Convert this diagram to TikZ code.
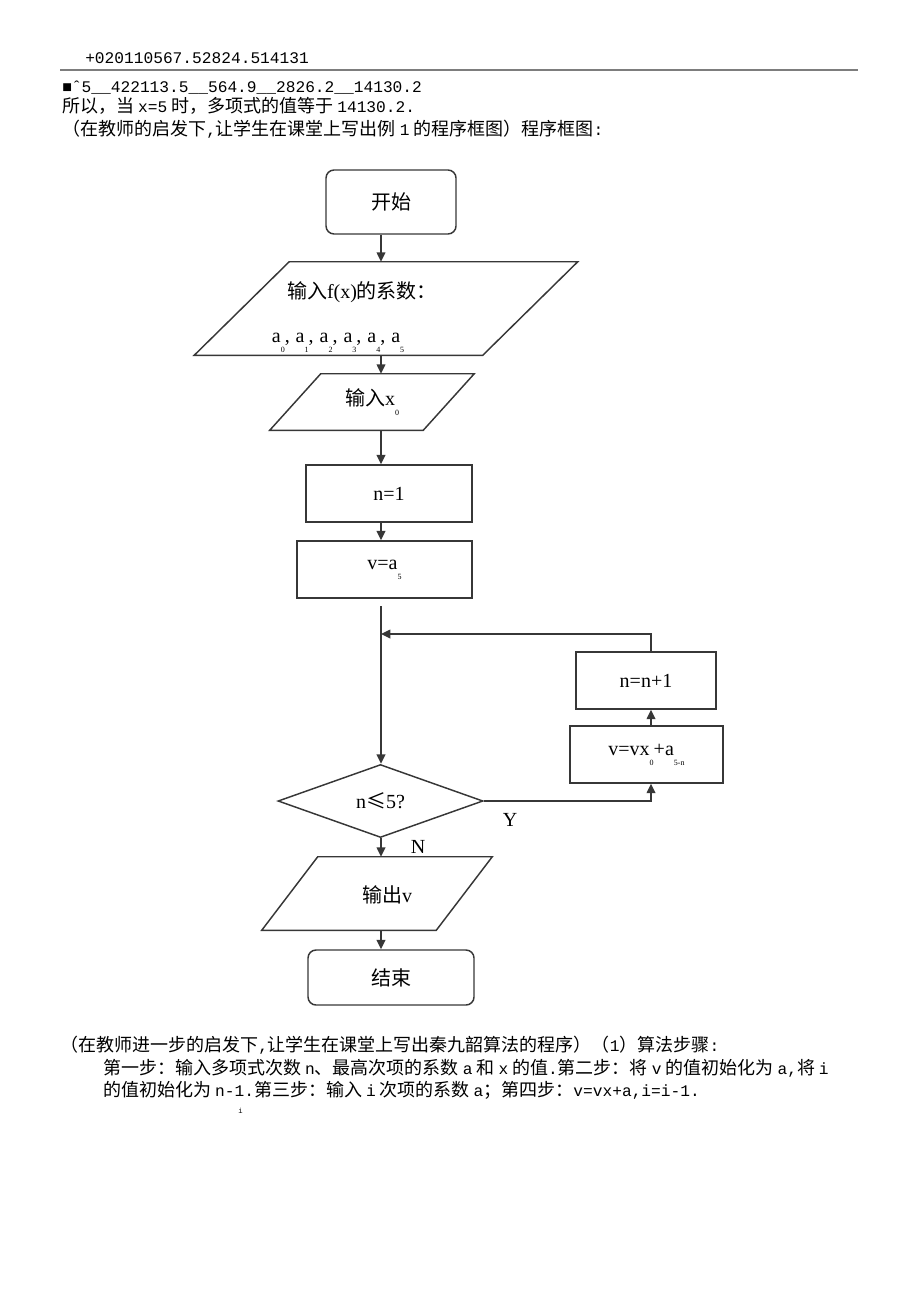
\documentclass[tikz,border=0pt]{standalone}
\usepackage{fontspec}
\setmainfont{Liberation Serif}
\setmonofont[Scale=0.9]{Liberation Mono}
\newfontfamily\cjk{Noto Sans CJK SC}
\usetikzlibrary{arrows.meta,shapes,positioning}

\newcommand{\upx}{0.75pt}
\newcommand{\zh}[1]{{\cjk #1}}
\newcommand{\gap}{\hspace{0.22em}}
\newcommand{\lowsub}[1]{\raisebox{-1.1ex}{\fontsize{6}{6}\selectfont #1}}
\newcommand{\slantbox}[2]{%
  \draw[flow] ([xshift=#2*\upx]#1.north west) -- ([xshift=#2*\upx]#1.north east)
    -- ([xshift=-#2*\upx]#1.south east) -- ([xshift=-#2*\upx]#1.south west) -- cycle;}
\definecolor{linegray}{RGB}{55,55,55}
\definecolor{rulegray}{RGB}{125,125,125}

\begin{document}
\begin{tikzpicture}[x=\upx,y=-\upx,
  flow/.style={draw=linegray,line width=1.1pt},
  term/.style={flow,rounded corners=6pt,inner sep=0,font=\fontsize{15}{18}\selectfont},
  proc/.style={flow,inner sep=0,font=\fontsize{15}{18}\selectfont},
  io/.style={inner sep=0,font=\fontsize{15}{18}\selectfont},
  arr/.style={draw=linegray,line width=1.1pt,-{Triangle[length=7pt,width=6.5pt]}},
  body/.style={anchor=base west,inner sep=0,font=\fontsize{13.5}{16}\selectfont}]

\useasboundingbox (0,0) rectangle (920,1302);

% text above the chart
\node[body] (l1) at (85,64) {\texttt{+020110567.52824.514131}};
\draw[rulegray,line width=0.8pt] (60,70) -- (858,70);
\node[body] (l2) at (62,93) {\texttt{■ˆ5\_\_422113.5\_\_564.9\_\_2826.2\_\_14130.2}};
\node[body] (l3) at (62,113) {\zh{所以，当}\gap\texttt{x=5}\gap\zh{时，多项式的值等于}\gap\texttt{14130.2.}};
\node[body] (l4) at (62,136) {\zh{（在教师的启发下}\texttt{,}\zh{让学生在课堂上写出例}\gap\texttt{1}\gap\zh{的程序框图）程序框图}\texttt{:}};

% the chart
\node[term, minimum width=130*\upx, minimum height=64*\upx] (start) at (391,202) {\zh{开始}};

\node[io, minimum width=288*\upx, minimum height=93*\upx] (incoef) at (386,308.5) {};
\slantbox{incoef}{47.5}
\node[io] (incoef-a) at (362,292) {\zh{输入}f(x)\zh{的系数：}};
\node[io] (incoef-b) at (338,343) {a\lowsub{0},\hspace{0.3em}a\lowsub{1},\hspace{0.3em}a\lowsub{2},\hspace{0.3em}a\lowsub{3},\hspace{0.3em}a\lowsub{4},\hspace{0.3em}a\lowsub{5}};

\node[io, minimum width=153*\upx, minimum height=56*\upx] (inx) at (372,402) {\zh{输入}x\lowsub{0}};
\slantbox{inx}{25.5}

\node[proc, minimum width=166*\upx, minimum height=57*\upx] (setn) at (389,493.5) {n=1};
\node[proc, minimum width=175*\upx, minimum height=57*\upx] (setv) at (384.5,569.5) {v=a\lowsub{5}};

\node[proc, diamond, aspect=2.8, minimum width=205*\upx, minimum height=73*\upx] (cond) at (380.5,801) {n\zh{≤}5?};

\node[proc, minimum width=140*\upx, minimum height=57*\upx] (inc) at (646,680.5) {n=n+1};
\node[proc, minimum width=153*\upx, minimum height=57*\upx] (upd) at (646.5,754.5) {v=vx\lowsub{0}+a\lowsub{5-n}};

\node[io, minimum width=174*\upx, minimum height=73*\upx] (outv) at (377,893.5) {};
\slantbox{outv}{28}
\node[io] (outv-t) at (387,895) {\zh{输出}v};

\node[term, minimum width=166*\upx, minimum height=55*\upx] (stop) at (391,977.5) {\zh{结束}};

% connectors
\coordinate (spine) at (381,0);
\coordinate (loopx) at (651,0);
\coordinate (loopin) at (381,606);
\coordinate (join) at (381,634);
\foreach \a/\b in {start/incoef,incoef/inx,inx/setn,setn/setv,cond/outv,outv/stop}
  \draw[arr] (\a.south -| spine) -- (\b.north -| spine);
\draw[arr] (loopin) -- (cond.north -| spine);
\draw[arr] (inc.north -| loopx) |- (join);
\draw[arr] (upd.north -| loopx) -- (inc.south -| loopx);
\draw[arr] (cond.east) -| (upd.south -| loopx);
\node[io] (yes) at (510,820) {Y};
\node[io] (no) at (418,847) {N};

% text below the chart
\node[body] (b1) at (60,1051) {\zh{（在教师进一步的启发下}\texttt{,}\zh{让学生在课堂上写出秦九韶算法的程序）（}\texttt{1}\zh{）算法步骤}\texttt{:}};
\node[body] (b2) at (103,1074) {\zh{第一步：输入多项式次数}\gap\texttt{n}\zh{、最高次项的系数}\gap\texttt{a}\gap\zh{和}\gap\texttt{x}\gap\zh{的值}\texttt{.}\zh{第二步：将}\gap\texttt{v}\gap\zh{的值初始化为}\gap\texttt{a,}\zh{将}\gap\texttt{i}};
\node[body] (b3) at (103,1096) {\zh{的值初始化为}\gap\texttt{n-1.}\zh{第三步：输入}\gap\texttt{i}\gap\zh{次项的系数}\gap\texttt{a}\zh{；第四步：}\texttt{v=vx+a,i=i-1.}};
\node[body, font=\fontsize{6}{6}\selectfont] (b4) at (238,1113) {\texttt{i}};

\end{tikzpicture}
\end{document}
